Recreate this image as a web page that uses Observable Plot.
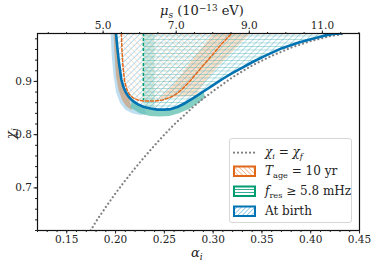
<!DOCTYPE html>
<html><head><meta charset="utf-8">
<script src="https://cdn.jsdelivr.net/npm/d3@7"></script>
<script src="https://cdn.jsdelivr.net/npm/@observablehq/plot@0.6"></script>
<style>
body{margin:0;background:#fff;}
#wrap{position:relative;width:374px;height:264px;font-family:'DejaVu Serif','Liberation Serif',serif;color:#222;overflow:hidden;}
#wrap svg text{font-family:'DejaVu Serif','Liberation Serif',serif !important;font-size:10.5px;fill:#222;}
.lab{position:absolute;white-space:nowrap;line-height:1;}
.lab sub{font-size:70%;vertical-align:-0.3em;line-height:0;}
.lab sup{font-size:68%;vertical-align:0.45em;line-height:0;}
#legend{position:absolute;left:229px;top:138px;width:123px;height:85px;border:1px solid #d6d6d6;border-radius:3px;background:rgba(255,255,255,0.85);box-sizing:border-box;}
.lt{position:absolute;left:265px;font-size:12px;white-space:nowrap;line-height:1;}
.lt sub{font-size:68%;vertical-align:-0.35em;line-height:0;}
</style></head><body><div id="wrap"></div>
<script>
// ---- data ----
const alphaPerMu = 0.03745; // alpha_i per 10^-13 eV
const xTickValues = [0.15, 0.20, 0.25, 0.30, 0.35, 0.40, 0.45];
const yTickValues = [0.7, 0.8, 0.9];
const muTickLabels = [5.0, 7.0, 9.0, 11.0];

// "At birth" boundary (blue)
const birthAlpha = [0.2005,0.2020,0.2035,0.2059,0.2080,0.2103,0.2135,0.2172,0.2230,0.2291,0.2360,0.2429,0.2500,0.2566,0.2634,0.2720,0.2800,0.2900,0.3000,0.3100,0.3200,0.3300,0.3400,0.3520,0.3700,0.3870,0.4000,0.4140,0.4230,0.4310];
const birthChi   = [0.990,0.960,0.935,0.904,0.890,0.880,0.871,0.864,0.857,0.852,0.849,0.847,0.847,0.848,0.852,0.860,0.869,0.881,0.893,0.905,0.916,0.926,0.936,0.947,0.962,0.9725,0.979,0.986,0.989,0.990];

// T_age = 10 yr boundary (orange dashed)
const ageAlpha = [0.2060,0.2065,0.2075,0.2093,0.2115,0.2140,0.2180,0.2230,0.2300,0.2400,0.2480,0.2560,0.2620,0.2680,0.2770,0.2870,0.2980,0.3080,0.3190];
const ageChi   = [0.990,0.960,0.930,0.900,0.885,0.876,0.869,0.865,0.863,0.863,0.865,0.870,0.876,0.885,0.902,0.924,0.947,0.969,0.990];

// f_res >= 5.8 mHz boundary (green dashed)
const fresAlpha = 0.2285;
const fresLineBottomChi = 0.864;
const fresBandRightAlpha = 0.240;

// chi_i = chi_f (grey dotted)
const equalAlpha = [0.1744,0.18,0.19,0.20,0.21,0.22,0.23,0.24,0.25,0.26,0.27,0.28,0.29,0.30,0.32,0.34,0.36,0.38,0.40,0.42,0.4355];
const equalChi   = [0.620,0.637,0.664,0.690,0.714,0.737,0.759,0.780,0.800,0.819,0.836,0.853,0.868,0.882,0.908,0.930,0.948,0.9635,0.9756,0.985,0.990];

// uncertainty bands (outer edges)
const lightBlueAlpha = [0.1950,0.1960,0.1980,0.2005,0.2045,0.2100,0.2170,0.2250,0.2320];
const lightBlueChi   = [0.990,0.950,0.910,0.880,0.860,0.847,0.840,0.837,0.838];
const tanAlpha = [0.1980,0.1990,0.2005,0.2030,0.2065,0.2110,0.2170];
const tanChi   = [0.990,0.950,0.910,0.885,0.866,0.853,0.846];
const tealAlpha = [0.2150,0.2250,0.2350,0.2450,0.2550,0.2650,0.2750,0.2850,0.2920];
const tealChi   = [0.851,0.840,0.835,0.834,0.835,0.840,0.848,0.860,0.870];
const orangeBandLeftAlpha = [0.300,0.287,0.274,0.262,0.252,0.244];
const orangeBandLeftChi   = [0.990,0.960,0.930,0.900,0.880,0.868];
const orangeBandRightAlpha = [0.282,0.292,0.306,0.322,0.338];
const orangeBandRightChi   = [0.873,0.900,0.930,0.960,0.990];

// ---- build tables ----
const pts = (A, C) => A.map((a, i) => ({a, c: C[i]}));
const birth = pts(birthAlpha, birthChi);
const age = pts(ageAlpha, ageChi);
const equal = pts(equalAlpha, equalChi);
function birthAt(a) {
  for (let i = 1; i < birthAlpha.length; i++) {
    if (a <= birthAlpha[i] && a >= birthAlpha[i-1]) {
      const t = (a - birthAlpha[i-1]) / (birthAlpha[i] - birthAlpha[i-1]);
      return birthChi[i-1] + t * (birthChi[i] - birthChi[i-1]);
    }
  }
  return birthChi[birthChi.length-1];
}
const topChi = 0.99;
const lightBluePoly = pts(lightBlueAlpha, lightBlueChi).concat(birth.filter(d => d.a <= 0.232).reverse());
const tanPoly = pts(tanAlpha, tanChi).concat(birth.filter(d => d.a <= 0.217).reverse());
const tealPoly = pts(tealAlpha, tealChi).concat(birth.filter(d => d.a >= 0.215 && d.a <= 0.292).reverse());
const orangeBandPoly = pts(orangeBandLeftAlpha, orangeBandLeftChi).concat(pts(orangeBandRightAlpha, orangeBandRightChi));
const greenStripePoly = [{a: fresAlpha, c: topChi}, {a: fresAlpha, c: birthAt(fresAlpha)}]
  .concat(birth.filter(d => d.a > fresAlpha && d.a < fresBandRightAlpha))
  .concat([{a: fresBandRightAlpha, c: birthAt(fresBandRightAlpha)}, {a: fresBandRightAlpha, c: topChi}]);
const greenPoly = [{a: fresAlpha, c: topChi}, {a: fresAlpha, c: birthAt(fresAlpha)}]
  .concat(birth.filter(d => d.a > fresAlpha));

const xMinor = d3.range(12, 46).map(v => v / 100);
const yMinor = d3.range(31, 50).map(v => v / 50);
const muMinor = d3.range(7, 25).map(v => v / 2);

const poly = (data, fill, extra = {}) => Plot.line(data, {x: "a", y: "c", fill, stroke: null, clip: true, ...extra});
const serif = "'DejaVu Serif','Liberation Serif',serif";

const chart = Plot.plot({
  width: 374, height: 264,
  marginLeft: 37, marginRight: 15, marginTop: 33, marginBottom: 34,
  x: {domain: [0.12, 0.45]},
  y: {domain: [0.62, 0.99]},
  style: {fontFamily: serif, fontSize: "10.5px", color: "#222", background: "transparent"},
  marks: [
    poly(lightBluePoly, "#b3d8f0", {fillOpacity: 0.85}),
    poly(tanPoly, "#caa98c", {fillOpacity: 0.85}),
    poly(tealPoly, "#5cbdae", {fillOpacity: 0.75}),
    poly(orangeBandPoly, "#f7c9a2", {fillOpacity: 0.55}),
    poly(greenStripePoly, "#9fd9c8", {fillOpacity: 0.45}),
    poly(birth, "url(#hatchBlue)"),
    poly(greenPoly, "url(#hatchGreen)"),
    poly(age, "url(#hatchOrange)"),
    Plot.line(equal, {x: "a", y: "c", stroke: "#808080", strokeWidth: 2.2, strokeLinecap: "round", strokeDasharray: "0.01,4", clip: true}),
    Plot.ruleX([fresAlpha], {y1: topChi, y2: fresLineBottomChi, stroke: "#029e73", strokeWidth: 1.5, strokeDasharray: "3,2"}),
    Plot.line(age, {x: "a", y: "c", stroke: "#e0681a", strokeWidth: 1.5, strokeDasharray: "3,2", clip: true}),
    Plot.line(birth, {x: "a", y: "c", stroke: "#0173b2", strokeWidth: 2.6, clip: true}),
    Plot.frame({stroke: "#111", strokeWidth: 1.2}),
    Plot.axisX({ticks: xTickValues, tickSize: 3.5, tickPadding: 2, tickFormat: d3.format(".2f"), label: null}),
    Plot.axisX({ticks: xMinor, tickSize: 2, tickFormat: () => "", label: null}),
    Plot.axisY({ticks: yTickValues, tickSize: 3.5, tickPadding: 2, tickFormat: d3.format(".1f"), label: null}),
    Plot.axisY({ticks: yMinor, tickSize: 2, tickFormat: () => "", label: null}),
    Plot.axisX({anchor: "top", ticks: muTickLabels.map(m => m * alphaPerMu), tickSize: 3.5, tickPadding: 1,
      tickFormat: d => d3.format(".1f")(d / alphaPerMu), label: null}),
    Plot.axisX({anchor: "top", ticks: muMinor.map(m => m * alphaPerMu).filter(a => a >= 0.12 && a <= 0.45), tickSize: 2, tickFormat: () => "", label: null})
  ]
});

// hatch patterns
const defs = d3.select(chart).insert("defs", ":first-child");
function hatch(sel, id, angle, color, sw, size, op) {
  const p = sel.append("pattern").attr("id", id).attr("patternUnits", "userSpaceOnUse")
    .attr("width", size).attr("height", size).attr("patternTransform", `rotate(${angle})`);
  p.append("line").attr("x1", 0).attr("y1", 0).attr("x2", size).attr("y2", 0)
    .attr("stroke", color).attr("stroke-width", sw).attr("stroke-opacity", op);
}
hatch(defs, "hatchBlue", -45, "#56aedd", 1, 4.2, 0.85);
hatch(defs, "hatchGreen", 0, "#3cb09a", 1, 3.5, 0.75);
hatch(defs, "hatchOrange", 45, "#f4a46a", 1, 4.2, 0.5);

const wrap = document.getElementById("wrap");
wrap.appendChild(chart);
chart.style.position = "absolute"; chart.style.left = "0"; chart.style.top = "0";

// labels and legend (text)
wrap.insertAdjacentHTML("beforeend", `
<div class="lab" style="left:160px;top:4px;font-size:13px;"><i>μ</i><sub><i>s</i></sub> (10<sup>−13</sup> eV)</div>
<div class="lab" style="left:191px;top:246px;font-size:13px;"><i>α</i><sub><i>i</i></sub></div>
<div class="lab" style="left:5px;top:127px;font-size:13px;transform:rotate(-90deg);transform-origin:center;"><i>χ</i><sub><i>i</i></sub></div>
<div id="legend"></div>
<svg width="374" height="264" style="position:absolute;left:0;top:0;">
  <defs>
    <pattern id="lgO" patternUnits="userSpaceOnUse" width="3.2" height="3.2" patternTransform="rotate(45)"><line x1="0" y1="0" x2="3.2" y2="0" stroke="#f2924d" stroke-width="1.1"/></pattern>
    <pattern id="lgG" patternUnits="userSpaceOnUse" width="3" height="3"><line x1="0" y1="0.5" x2="3" y2="0.5" stroke="#34ab94" stroke-width="1"/></pattern>
    <pattern id="lgB" patternUnits="userSpaceOnUse" width="3.2" height="3.2" patternTransform="rotate(-45)"><line x1="0" y1="0" x2="3.2" y2="0" stroke="#4fa9dc" stroke-width="1.1"/></pattern>
  </defs>
  <line x1="234" y1="152.7" x2="256" y2="152.7" stroke="#808080" stroke-width="2.2" stroke-linecap="round" stroke-dasharray="0.01,4"/>
  <rect x="234" y="166.5" width="21" height="9.5" fill="url(#lgO)" stroke="#e0681a" stroke-width="2"/>
  <rect x="234" y="186.5" width="21" height="9.5" fill="url(#lgG)" stroke="#029e73" stroke-width="2"/>
  <rect x="234" y="206.5" width="21" height="9.5" fill="url(#lgB)" stroke="#0173b2" stroke-width="2"/>
</svg>
<div class="lt" style="top:146px;"><i>χ</i><sub><i>i</i></sub> = <i>χ</i><sub><i>f</i></sub></div>
<div class="lt" style="top:165px;"><i>T</i><sub>age</sub> = 10 yr</div>
<div class="lt" style="top:185px;"><i>f</i><sub>res</sub> ≥ 5.8 mHz</div>
<div class="lt" style="top:205px;">At birth</div>
`);
</script>
</body></html>
